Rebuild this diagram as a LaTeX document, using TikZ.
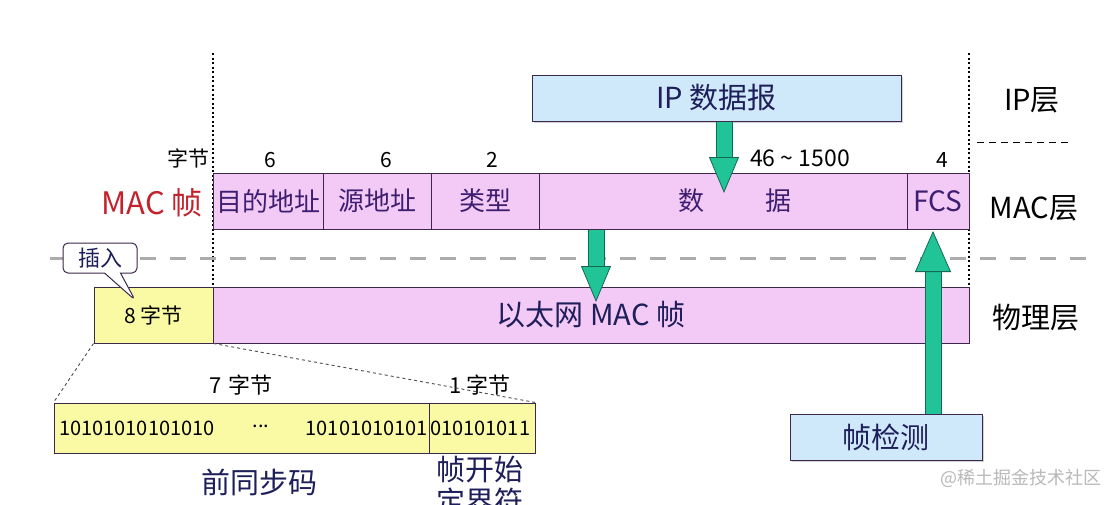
\documentclass[tikz,border=0pt]{standalone}
\usepackage{fontspec}
\setmainfont{Noto Sans CJK SC}
\usetikzlibrary{arrows.meta,shapes.callouts,shadows}
\definecolor{framepink}{RGB}{243,202,245}
\definecolor{ipblue}{RGB}{207,232,250}
\definecolor{preyellow}{RGB}{250,250,165}
\definecolor{boxline}{RGB}{60,40,75}
\definecolor{arrowgreen}{RGB}{32,196,150}
\definecolor{arrowdark}{RGB}{20,105,85}
\definecolor{labelnavy}{RGB}{30,30,90}
\definecolor{fieldpurple}{RGB}{62,30,112}
\definecolor{macred}{RGB}{195,35,45}
\tikzset{
  field/.style={draw=boxline, line width=1pt, fill=framepink, inner sep=0pt,
    minimum height=56pt, text=fieldpurple, font=\fontsize{26}{30}\selectfont},
  ipbox/.style={draw=boxline, line width=1pt, fill=ipblue, inner sep=0pt,
    minimum height=46pt, text=labelnavy, font=\fontsize{29}{32}\selectfont,
    drop shadow={shadow xshift=2pt, shadow yshift=-2pt, opacity=0.35}},
  prebox/.style={draw=boxline, line width=1pt, fill=preyellow, inner sep=0pt,
    minimum height=50pt},
  count/.style={inner sep=1pt, font=\fontsize{21}{24}\selectfont},
  layer/.style={inner sep=1pt, font=\fontsize{29}{32}\selectfont},
  bits/.style={inner sep=1pt, font=\fontsize{20}{24}\selectfont},
  biglabel/.style={inner sep=1pt, text=labelnavy, font=\fontsize{29}{32}\selectfont},
  fatarrow/.style={line width=15pt, draw=arrowgreen,
    -{Triangle[length=36pt,width=30pt,fill=arrowgreen,color=arrowdark,line width=0.8pt]},
    preaction={-, draw=arrowdark, line width=17pt, shorten >=30pt}},
  zoomline/.style={line width=0.9pt, gray!60!black, dash pattern=on 3pt off 3pt},
  callbox/.style={rectangle callout, draw=boxline, line width=1pt, fill=white,
    rounded corners=5pt, minimum width=74pt, minimum height=30pt, inner sep=0pt,
    callout pointer width=16pt, text=labelnavy, font=\fontsize{22}{26}\selectfont}
}
\begin{document}
\begin{tikzpicture}[x=1pt,y=-1pt]
\fill[white] (0,0) rectangle (1118,504);
\useasboundingbox (0,0) rectangle (1118,504);

% layer borders
\draw[line width=1.2pt, dash pattern=on 2pt off 2.5pt] (213,53) -- (213,287);
\draw[line width=1.2pt, dash pattern=on 2pt off 2.5pt] (969,53) -- (969,287);
\draw[line width=3pt, gray!65, dash pattern=on 16pt off 14pt] (50,258) -- (1092,258);
\draw[line width=1pt, dash pattern=on 7pt off 5pt] (977,142) -- (1071,142);

% IP layer
\node[ipbox, minimum width=369pt] (ipdg) at (716.5,98) {IP 数据报};
\node[layer] (iplayer) at (1032,100) {IP层};

% MAC frame
\node[count, anchor=east] (unit) at (211,158) {字节};
\node[count] (ndst) at (270,160) {6};
\node[count] (nsrc) at (386,160) {6};
\node[count] (ntype) at (492,160) {2};
\node[count, font=\fontsize{23}{26}\selectfont] (ndata) at (800,158) {46 \char`\~{} 1500};
\node[count] (nfcs) at (942,160) {4};
\node[field, minimum width=110pt] (dst) at (268,201) {目的地址};
\node[field, minimum width=108pt] (src) at (377,201) {源地址};
\node[field, minimum width=108pt] (type) at (485,201) {类型};
\node[field, minimum width=368pt] (data) at (723,201) {\hspace{23pt}数\hspace{61pt}据};
\node[field, minimum width=62pt, font=\fontsize{28}{30}\selectfont] (fcs) at (938,201) {FCS};
\node[anchor=east, inner sep=1pt, text=macred, font=\fontsize{31}{34}\selectfont] (macname) at (204,203) {MAC 帧};
\node[layer] (maclayer) at (1034,208) {MAC层};

% physical layer
\node[prebox, minimum width=119pt, minimum height=56pt, font=\fontsize{21}{24}\selectfont] (pre8) at (153.5,315) {8 字节\hspace{10pt}};
\node[field, minimum width=756pt, text=labelnavy, font=\fontsize{29}{32}\selectfont] (eth) at (591,315) {以太网 MAC 帧};
\node[layer] (phylayer) at (1036,318) {物理层};
\coordinate (insptr) at (135,300);
\node[callbox, callout absolute pointer={(insptr)}] (insert) at (100,258) {插入};

% preamble
\node[prebox, minimum width=375pt] (pre) at (241.5,428) {};
\node[prebox, minimum width=106pt] (sfd) at (482,428) {};
\node[bits, anchor=west] (bitsa) at (58,428) {10101010101010};
\node[bits] (dots) at (261,426) {...};
\node[bits, anchor=east] (bitsb) at (429,428) {10101010101};
\node[bits, anchor=west] (bitsc) at (429,428) {010101011};
\node[count, font=\fontsize{22}{26}\selectfont] (n7) at (241,385) {7\hspace{6pt}字节};
\node[count, font=\fontsize{22}{26}\selectfont] (n1) at (480,385) {1\hspace{4pt}字节};
\draw[zoomline] (pre8.south west) -- (pre.north west);
\draw[zoomline] (pre8.south east) -- (sfd.north east);
\node[biglabel] (prename) at (259,482) {前同步码};
\node[biglabel, align=center] (sfdname) at (480,486) {帧开始\\定界符};

% frame check
\node[ipbox, minimum width=192pt] (check) at (886,437) {帧检测};

% arrows
\coordinate (tipa) at (724,193);
\coordinate (tipb) at (596,302);
\coordinate (tipc) at (933,231);
\draw[fatarrow] (ipdg.south -| tipa) -- (tipa);
\draw[fatarrow] (data.south -| tipb) -- (tipb);
\draw[fatarrow, -{Triangle[length=41pt,width=36pt,fill=arrowgreen,color=arrowdark,line width=0.8pt]}] (check.north -| tipc) -- (tipc);

\node[text=gray!55, inner sep=0pt, font=\fontsize{18}{20}\selectfont] (mark) at (1021,478) {@稀土掘金技术社区};
\end{tikzpicture}
\end{document}
